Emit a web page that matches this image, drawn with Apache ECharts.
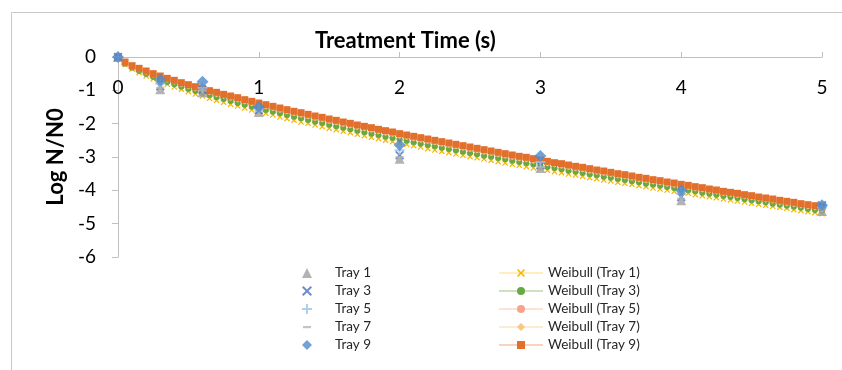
<!DOCTYPE html>
<html>
<head>
<meta charset="utf-8">
<script src="https://cdn.jsdelivr.net/npm/echarts@6/dist/echarts.min.js"></script>
<style>
  html, body { margin: 0; padding: 0; background: #fff; }
  #chart { width: 842px; height: 370px; }
</style>
</head>
<body>
<div id="chart"></div>
<script>
// measured data points (s, log N/N0)
const trayTime = [0, 0.3, 0.6, 1, 2, 3, 4, 5]
const tray1 = [0, -0.97, -1.06, -1.65, -3.05, -3.33, -4.3, -4.62]
const tray3 = [0, -0.88, -0.98, -1.6, -2.95, -3.25, -4.2, -4.45]
const tray5 = [0, -0.8, -0.92, -1.55, -2.8, -3.15, -4.1, -4.5]
const tray7 = [0, -0.92, -1.0, -1.62, -3.0, -3.3, -4.25, -4.55]
const tray9 = [0, -0.68, -0.74, -1.5, -2.64, -2.97, -4.0, -4.45]

// fitted curves, one point every 0.05 s
const fitTime = [
  0, 0.05, 0.1, 0.15, 0.2, 0.25, 0.3, 0.35, 0.4, 0.45, 0.5,
  0.55, 0.6, 0.65, 0.7, 0.75, 0.8, 0.85, 0.9, 0.95, 1,
  1.05, 1.1, 1.15, 1.2, 1.25, 1.3, 1.35, 1.4, 1.45, 1.5,
  1.55, 1.6, 1.65, 1.7, 1.75, 1.8, 1.85, 1.9, 1.95, 2,
  2.05, 2.1, 2.15, 2.2, 2.25, 2.3, 2.35, 2.4, 2.45, 2.5,
  2.55, 2.6, 2.65, 2.7, 2.75, 2.8, 2.85, 2.9, 2.95, 3,
  3.05, 3.1, 3.15, 3.2, 3.25, 3.3, 3.35, 3.4, 3.45, 3.5,
  3.55, 3.6, 3.65, 3.7, 3.75, 3.8, 3.85, 3.9, 3.95, 4,
  4.05, 4.1, 4.15, 4.2, 4.25, 4.3, 4.35, 4.4, 4.45, 4.5,
  4.55, 4.6, 4.65, 4.7, 4.75, 4.8, 4.85, 4.9, 4.95, 5
]
const weibull1 = [
  0, -0.23, -0.36, -0.47, -0.57, -0.66, -0.75, -0.82, -0.90, -0.97, -1.04,
  -1.11, -1.17, -1.24, -1.30, -1.36, -1.42, -1.47, -1.53, -1.59, -1.64,
  -1.69, -1.74, -1.80, -1.85, -1.90, -1.95, -1.99, -2.04, -2.09, -2.14,
  -2.18, -2.23, -2.27, -2.32, -2.36, -2.41, -2.45, -2.50, -2.54, -2.58,
  -2.62, -2.66, -2.70, -2.75, -2.79, -2.83, -2.87, -2.91, -2.95, -2.99,
  -3.02, -3.06, -3.10, -3.14, -3.18, -3.22, -3.25, -3.29, -3.33, -3.36,
  -3.40, -3.44, -3.47, -3.51, -3.54, -3.58, -3.62, -3.65, -3.69, -3.72,
  -3.76, -3.79, -3.82, -3.86, -3.89, -3.93, -3.96, -3.99, -4.03, -4.06,
  -4.09, -4.13, -4.16, -4.19, -4.22, -4.26, -4.29, -4.32, -4.35, -4.39,
  -4.42, -4.45, -4.48, -4.51, -4.54, -4.58, -4.61, -4.64, -4.67, -4.70
]
const weibull3 = [
  0, -0.20, -0.32, -0.42, -0.51, -0.60, -0.68, -0.75, -0.82, -0.89, -0.96,
  -1.02, -1.09, -1.15, -1.21, -1.26, -1.32, -1.38, -1.43, -1.49, -1.54,
  -1.59, -1.64, -1.69, -1.74, -1.79, -1.84, -1.89, -1.94, -1.98, -2.03,
  -2.08, -2.12, -2.17, -2.21, -2.26, -2.30, -2.34, -2.39, -2.43, -2.47,
  -2.51, -2.56, -2.60, -2.64, -2.68, -2.72, -2.76, -2.80, -2.84, -2.88,
  -2.92, -2.96, -2.99, -3.03, -3.07, -3.11, -3.15, -3.19, -3.22, -3.26,
  -3.30, -3.33, -3.37, -3.41, -3.44, -3.48, -3.52, -3.55, -3.59, -3.62,
  -3.66, -3.69, -3.73, -3.76, -3.80, -3.83, -3.86, -3.90, -3.93, -3.97,
  -4.00, -4.03, -4.07, -4.10, -4.13, -4.17, -4.20, -4.23, -4.27, -4.30,
  -4.33, -4.36, -4.40, -4.43, -4.46, -4.49, -4.52, -4.56, -4.59, -4.62
]
const weibull5 = [
  0, -0.18, -0.29, -0.38, -0.47, -0.55, -0.63, -0.70, -0.76, -0.83, -0.90,
  -0.96, -1.02, -1.08, -1.14, -1.19, -1.25, -1.30, -1.36, -1.41, -1.46,
  -1.51, -1.56, -1.61, -1.66, -1.71, -1.76, -1.81, -1.86, -1.90, -1.95,
  -1.99, -2.04, -2.08, -2.13, -2.17, -2.21, -2.26, -2.30, -2.34, -2.39,
  -2.43, -2.47, -2.51, -2.55, -2.59, -2.63, -2.67, -2.71, -2.75, -2.79,
  -2.83, -2.87, -2.91, -2.95, -2.99, -3.03, -3.07, -3.10, -3.14, -3.18,
  -3.22, -3.25, -3.29, -3.33, -3.36, -3.40, -3.44, -3.47, -3.51, -3.54,
  -3.58, -3.61, -3.65, -3.69, -3.72, -3.76, -3.79, -3.83, -3.86, -3.90,
  -3.93, -3.96, -4.00, -4.03, -4.06, -4.10, -4.13, -4.16, -4.20, -4.23,
  -4.27, -4.30, -4.33, -4.37, -4.40, -4.43, -4.46, -4.50, -4.53, -4.56
]
const weibull7 = [
  0, -0.16, -0.28, -0.36, -0.44, -0.52, -0.60, -0.67, -0.73, -0.80, -0.86,
  -0.92, -0.98, -1.04, -1.10, -1.15, -1.21, -1.26, -1.32, -1.37, -1.42,
  -1.47, -1.52, -1.57, -1.62, -1.67, -1.71, -1.76, -1.81, -1.85, -1.90,
  -1.94, -1.99, -2.03, -2.08, -2.12, -2.16, -2.21, -2.25, -2.29, -2.34,
  -2.38, -2.42, -2.46, -2.50, -2.54, -2.58, -2.62, -2.66, -2.70, -2.74,
  -2.78, -2.82, -2.86, -2.90, -2.94, -2.98, -3.02, -3.05, -3.09, -3.13,
  -3.17, -3.21, -3.24, -3.28, -3.32, -3.35, -3.39, -3.43, -3.46, -3.50,
  -3.54, -3.57, -3.61, -3.65, -3.68, -3.72, -3.75, -3.79, -3.82, -3.86,
  -3.89, -3.93, -3.96, -4.00, -4.03, -4.07, -4.10, -4.13, -4.17, -4.20,
  -4.24, -4.27, -4.30, -4.34, -4.37, -4.40, -4.44, -4.47, -4.50, -4.54
]
const weibull9 = [
  0, -0.15, -0.26, -0.34, -0.42, -0.50, -0.57, -0.64, -0.70, -0.77, -0.83,
  -0.89, -0.95, -1.01, -1.06, -1.12, -1.17, -1.22, -1.28, -1.33, -1.38,
  -1.43, -1.48, -1.53, -1.58, -1.63, -1.67, -1.72, -1.77, -1.81, -1.86,
  -1.90, -1.95, -1.99, -2.04, -2.08, -2.12, -2.17, -2.21, -2.25, -2.30,
  -2.34, -2.38, -2.42, -2.46, -2.50, -2.54, -2.58, -2.62, -2.66, -2.70,
  -2.74, -2.78, -2.82, -2.86, -2.90, -2.94, -2.98, -3.01, -3.05, -3.09,
  -3.13, -3.17, -3.20, -3.24, -3.28, -3.31, -3.35, -3.39, -3.42, -3.46,
  -3.50, -3.53, -3.57, -3.61, -3.64, -3.68, -3.71, -3.75, -3.78, -3.82,
  -3.85, -3.89, -3.92, -3.96, -3.99, -4.03, -4.06, -4.09, -4.13, -4.16,
  -4.20, -4.23, -4.26, -4.30, -4.33, -4.36, -4.40, -4.43, -4.46, -4.50
]

const trayNames = ['Tray 1', 'Tray 3', 'Tray 5', 'Tray 7', 'Tray 9']
const fitNames = ['Weibull (Tray 1)', 'Weibull (Tray 3)', 'Weibull (Tray 5)', 'Weibull (Tray 7)', 'Weibull (Tray 9)']

const FONT = 'Lato, "Open Sans", sans-serif'
const plusPath = 'path://M4,0H6V4H10V6H6V10H4V6H0V4H4Z'
const crossPath = 'path://M1.4,0L5,3.6L8.6,0L10,1.4L6.4,5L10,8.6L8.6,10L5,6.4L1.4,10L0,8.6L3.6,5L0,1.4Z'
const dashPath = 'path://M0,0M10,10M1,4H9V6.2H1Z'

function pairs(xs, ys) {
  return xs.map((x, i) => [x, ys[i]])
}

function traySeries(name, values, symbol, size, color) {
  return {
    name: name,
    type: 'scatter',
    data: pairs(trayTime, values),
    symbol: symbol,
    symbolSize: size,
    itemStyle: { color: color },
    z: 5
  }
}

function fitSeries(name, values, symbol, size, color, lineColor) {
  return {
    name: name,
    type: 'line',
    data: pairs(fitTime, values),
    symbol: symbol,
    symbolSize: size,
    showAllSymbol: true,
    itemStyle: { color: color },
    lineStyle: { color: lineColor, width: 1 },
    z: 3
  }
}

const chart = echarts.init(document.getElementById('chart'))
chart.setOption({
  animation: false,
  backgroundColor: '#fff',
  graphic: [
    {
      type: 'rect',
      shape: { x: 11.5, y: 12.5, width: 900, height: 400 },
      style: { fill: 'none', stroke: '#c8c8c8', lineWidth: 1 }
    }
  ],
  title: {
    text: 'Treatment Time (s)',
    left: 310,
    top: 25,
    textStyle: { fontFamily: FONT, fontSize: 22, fontWeight: 'bold', color: '#000' }
  },
  grid: { left: 118, top: 57, width: 704, height: 200 },
  legend: [
    {
      data: trayNames,
      orient: 'vertical',
      left: 297,
      top: 261,
      itemWidth: 10,
      itemHeight: 10,
      itemGap: 4,
      textStyle: { fontFamily: FONT, fontSize: 13.5, color: '#262626', padding: [0, 0, 0, 18] }
    },
    {
      data: fitNames,
      orient: 'vertical',
      left: 493,
      top: 261,
      itemWidth: 44,
      itemHeight: 10,
      itemGap: 4,
      textStyle: { fontFamily: FONT, fontSize: 13.5, color: '#262626' }
    }
  ],
  xAxis: {
    type: 'value',
    position: 'top',
    min: 0,
    max: 5,
    interval: 1,
    axisLine: { show: true, onZero: false, lineStyle: { color: '#bfbfbf', width: 1 } },
    axisTick: { show: true, length: 5, lineStyle: { color: '#bfbfbf' } },
    axisLabel: { inside: true, margin: 21, fontFamily: FONT, fontSize: 19, color: '#000' },
    splitLine: { show: false }
  },
  yAxis: {
    type: 'value',
    min: -6,
    max: 0,
    interval: 1,
    name: 'Log N/N0',
    nameLocation: 'middle',
    nameGap: 50,
    nameTextStyle: { fontFamily: FONT, fontSize: 22, fontWeight: 'bold', color: '#000' },
    axisLine: { show: true, onZero: false, lineStyle: { color: '#bfbfbf', width: 1 } },
    axisTick: { show: true, length: 6, lineStyle: { color: '#bfbfbf' } },
    axisLabel: { margin: 22, fontFamily: FONT, fontSize: 19, color: '#000' },
    splitLine: { show: false }
  },
  series: [
    fitSeries(fitNames[0], weibull1, crossPath, 6, '#f5b400', 'rgba(255,192,0,0.25)'),
    fitSeries(fitNames[1], weibull3, 'circle', 6, '#6aa843', 'rgba(112,173,71,0.35)'),
    fitSeries(fitNames[2], weibull5, 'circle', 4, '#f6a58a', 'rgba(244,160,130,0.3)'),
    fitSeries(fitNames[3], weibull7, 'diamond', 7, '#fbc77a', 'rgba(251,190,110,0.3)'),
    fitSeries(fitNames[4], weibull9, 'rect', 7, '#e2702c', 'rgba(226,112,44,0.3)'),
    traySeries(trayNames[0], tray1, 'triangle', 10, '#a0a0a0'),
    traySeries(trayNames[1], tray3, crossPath, 9, '#4a6fb8'),
    traySeries(trayNames[2], tray5, plusPath, 10, '#9dc3e6'),
    traySeries(trayNames[3], tray7, dashPath, 10, '#b4b4b4'),
    traySeries(trayNames[4], tray9, 'diamond', 12, '#4f8acb')
  ]
})
</script>
</body>
</html>
